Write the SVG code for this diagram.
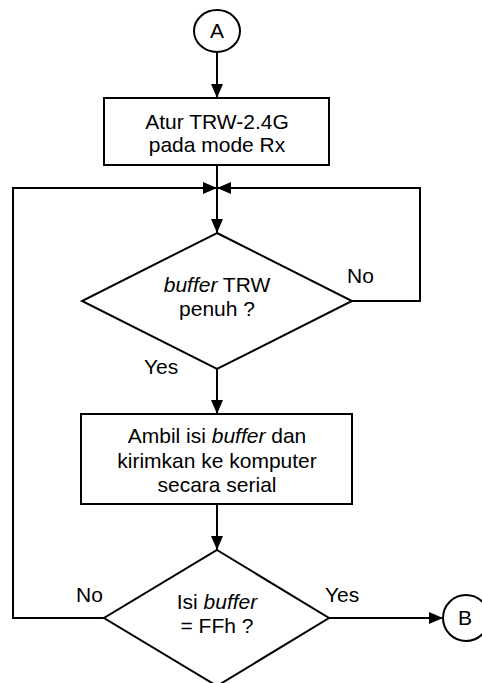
<svg xmlns="http://www.w3.org/2000/svg" width="482" height="683" viewBox="0 0 482 683">
<style>
.shape{fill:#fff;stroke:#000;stroke-width:2}
.conn{fill:none;stroke:#000;stroke-width:2}
text{font-family:"Liberation Sans",Arial,sans-serif;font-size:21px;fill:#000}
.c{text-anchor:middle}
.i{font-style:italic}
</style>
<defs>
<marker id="arr" viewBox="0 0 14 12" refX="14" refY="6" markerWidth="14" markerHeight="12" markerUnits="userSpaceOnUse" orient="auto">
<path d="M0,0 L14,6 L0,12 Z" fill="#000"/>
</marker>
</defs>
<g id="connectors">
<path class="conn" d="M217,52 L217,98" marker-end="url(#arr)"/>
<path class="conn" d="M217,165 L217,233" marker-end="url(#arr)"/>
<path class="conn" d="M352,301 L420,301 L420,188 L217,188" marker-end="url(#arr)"/>
<path class="conn" d="M217,369 L217,414" marker-end="url(#arr)"/>
<path class="conn" d="M217,504 L217,550" marker-end="url(#arr)"/>
<path class="conn" d="M104,618 L13,618 L13,188 L217,188" marker-end="url(#arr)"/>
<path class="conn" d="M329,618 L443,618" marker-end="url(#arr)"/>
<text x="347" y="283">No</text>
<text x="144" y="374">Yes</text>
<text x="76" y="602">No</text>
<text x="325" y="602">Yes</text>
</g>
<g id="startA">
<ellipse class="shape" cx="217" cy="31" rx="23" ry="21"/>
<text class="c" x="217" y="38">A</text>
</g>
<g id="setRx">
<rect class="shape" x="104" y="98" width="225" height="67"/>
<text class="c" x="217" y="129">Atur TRW-2.4G</text>
<text class="c" x="217" y="152">pada mode Rx</text>
</g>
<g id="bufferFull">
<polygon class="shape" points="217,233 352,301 217,369 82,301"/>
<text class="c" x="217" y="292"><tspan class="i">buffer</tspan> TRW</text>
<text class="c" x="217" y="316">penuh ?</text>
</g>
<g id="sendData">
<rect class="shape" x="81" y="414" width="271" height="90"/>
<text class="c" x="217" y="443">Ambil isi <tspan class="i">buffer</tspan> dan</text>
<text class="c" x="217" y="468">kirimkan ke komputer</text>
<text class="c" x="217" y="492">secara serial</text>
</g>
<g id="isFFh">
<polygon class="shape" points="217,550 329,618 217,686 104,618"/>
<text class="c" x="217" y="609">Isi <tspan class="i">buffer</tspan></text>
<text class="c" x="217" y="633">= FFh ?</text>
</g>
<g id="endB">
<circle class="shape" cx="466" cy="618" r="23"/>
<text class="c" x="465" y="625">B</text>
</g>
</svg>
